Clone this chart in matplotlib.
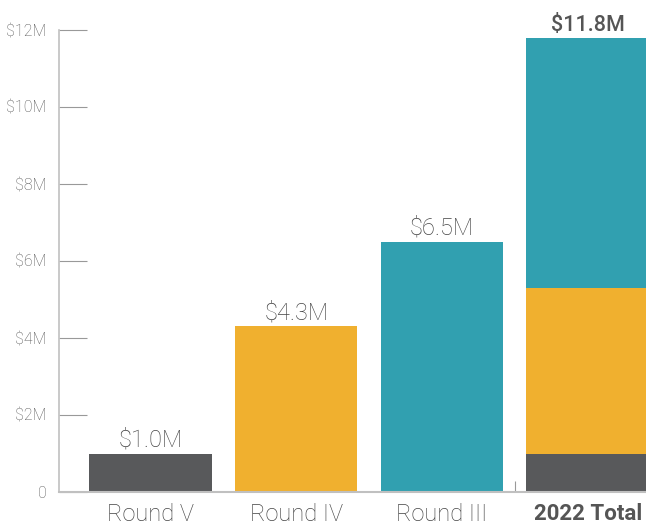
import matplotlib
matplotlib.use("Agg")
import matplotlib.pyplot as plt
from matplotlib.ticker import FixedLocator

categories = ["Round V", "Round IV", "Round III", "2022 Total"]
round_values = [1.0, 4.3, 6.5]
value_labels = ["$1.0M", "$4.3M", "$6.5M", "$11.8M"]
ytick_values = [0, 2, 4, 6, 8, 10, 12]
ytick_labels = ["0", "$2M", "$4M", "$6M", "$8M", "$10M", "$12M"]

colors = ["#58595b", "#f0b02f", "#31a0b0"]

plt.rcParams['font.family'] = ['Roboto', 'DejaVu Sans']

fig = plt.figure(figsize=(6.46, 5.27), dpi=100)
ax = fig.add_axes([59/646, 1-492/527, 1-59/646, (492-30)/527])

w = 0.84
for i, v in enumerate(round_values):
    ax.bar(i, v, width=w, color=colors[i], zorder=2)
# stacked total
bottom = 0
for i, v in enumerate(round_values):
    ax.bar(3, v, width=w, bottom=bottom, color=colors[i], zorder=2)
    bottom += v
totals = round_values + [sum(round_values)]

for i, (t, lab) in enumerate(zip(totals, value_labels)):
    bold = i == 3
    ax.annotate(lab, (i, t), xytext=(0, 1.5), textcoords="offset points",
                ha="center", va="bottom", fontsize=15.5 if bold else 17,
                fontweight="medium" if bold else "light",
                color="#555555" if bold else "#444444", clip_on=False)

ax.set_xlim(-0.627, 3.40)
ax.set_ylim(0, 12)

ax.set_yticks(ytick_values)
ax.set_yticklabels(ytick_labels, fontsize=11.5, fontweight="light", color="#555555")
ax.tick_params(axis="y", direction="in", length=20, width=0.8, color="#999999", pad=9)

ax.set_xticks(range(len(categories)))
ax.set_xticklabels(categories, fontsize=17)
ax.tick_params(axis="x", which="major", length=0, pad=8, labelcolor="#444444")
for lbl in ax.get_xticklabels():
    lbl.set_fontweight("light")
ax.get_xticklabels()[3].set_fontweight("bold")
ax.get_xticklabels()[3].set_fontsize(16)
ax.get_xticklabels()[3].set_color("#555555")
ax.xaxis.set_minor_locator(FixedLocator([2.5]))
ax.tick_params(axis="x", which="minor", direction="in", length=8, width=0.8, color="#999999")

for s in ["top", "right"]:
    ax.spines[s].set_visible(False)
ax.spines["left"].set_color("#c0c0c0")
ax.spines["left"].set_linewidth(1.2)
ax.spines["bottom"].set_color("#c0c0c0")
ax.spines["bottom"].set_linewidth(1.5)
ax.spines["left"].set_zorder(3)

fig.savefig("out.png", dpi=100)
